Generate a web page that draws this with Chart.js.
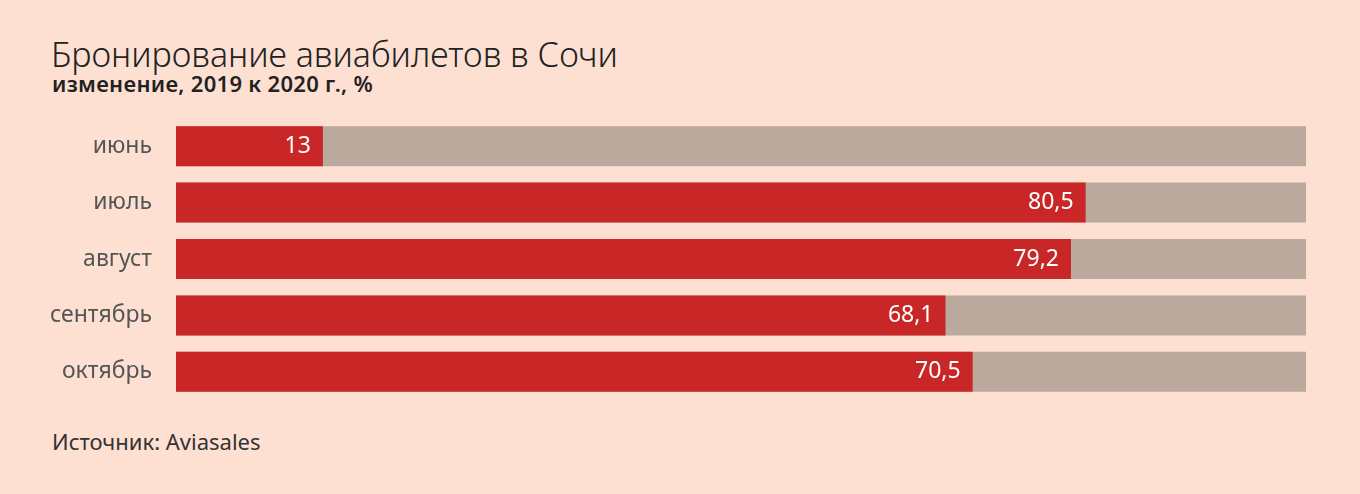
<!DOCTYPE html>
<html lang="ru">
<head>
<meta charset="utf-8">
<script src="https://cdn.jsdelivr.net/npm/chart.js@4/dist/chart.umd.min.js"></script>
<style>
  html, body { margin: 0; padding: 0; background: #fde0d2; }
  body { width: 1360px; height: 494px; position: relative; overflow: hidden; font-family: "Noto Sans", sans-serif; }
  .txt { position: absolute; line-height: 1; white-space: nowrap; }
  #title { left: 51px; top: 37px; font-size: 34px; font-weight: 300; color: #222; }
  #subtitle { left: 52px; top: 72px; font-size: 22px; font-weight: 600; color: #222; letter-spacing: 0.3px; }
  #source { left: 52px; top: 430px; font-size: 22px; color: #333; }
  #wrap { position: absolute; left: 0; top: 0; width: 1360px; height: 494px; }
</style>
</head>
<body>
<div id="title" class="txt">Бронирование авиабилетов в Сочи</div>
<div id="subtitle" class="txt">изменение, 2019 к 2020 г., %</div>
<div id="source" class="txt">Источник: Aviasales</div>
<div id="wrap"><canvas id="chart"></canvas></div>
<script>
// данные
const months = ['июнь', 'июль', 'август', 'сентябрь', 'октябрь'];
const changeValues = [13, 80.5, 79.2, 68.1, 70.5];
const fullScale = [100, 100, 100, 100, 100];

// подписи значений внутри красных столбцов
const valueLabels = {
    id: 'valueLabels',
    afterDatasetsDraw(chart) {
        const ctx = chart.ctx;
        const meta = chart.getDatasetMeta(0);
        ctx.save();
        ctx.font = '23px "Noto Sans", sans-serif';
        ctx.fillStyle = '#ffffff';
        ctx.textAlign = 'right';
        ctx.textBaseline = 'middle';
        meta.data.forEach((bar, i) => {
            const txt = String(changeValues[i]).replace('.', ',');
            ctx.fillText(txt, bar.x - 12, bar.y);
        });
        ctx.restore();
    }
};

new Chart(document.getElementById('chart'), {
    type: 'bar',
    data: {
        labels: months,
        datasets: [
            {
                data: changeValues,
                backgroundColor: '#c92727',
                grouped: false,
                barPercentage: 0.71,
                categoryPercentage: 1
            },
            {
                data: fullScale,
                backgroundColor: '#bba99e',
                grouped: false,
                barPercentage: 0.71,
                categoryPercentage: 1
            }
        ]
    },
    options: {
        indexAxis: 'y',
        responsive: true,
        maintainAspectRatio: false,
        animation: false,
        layout: { padding: { top: 118, bottom: 94, right: 54, left: 0 } },
        plugins: {
            legend: { display: false },
            tooltip: { enabled: false }
        },
        scales: {
            x: { display: false, min: 0, max: 100 },
            y: {
                grid: { display: false, drawTicks: false },
                border: { display: false },
                ticks: {
                    color: '#555',
                    padding: 24,
                    font: { family: '"Noto Sans", sans-serif', size: 23 }
                },
                afterFit(scale) { scale.width = 176; }
            }
        }
    },
    plugins: [valueLabels]
});
</script>
</body>
</html>
